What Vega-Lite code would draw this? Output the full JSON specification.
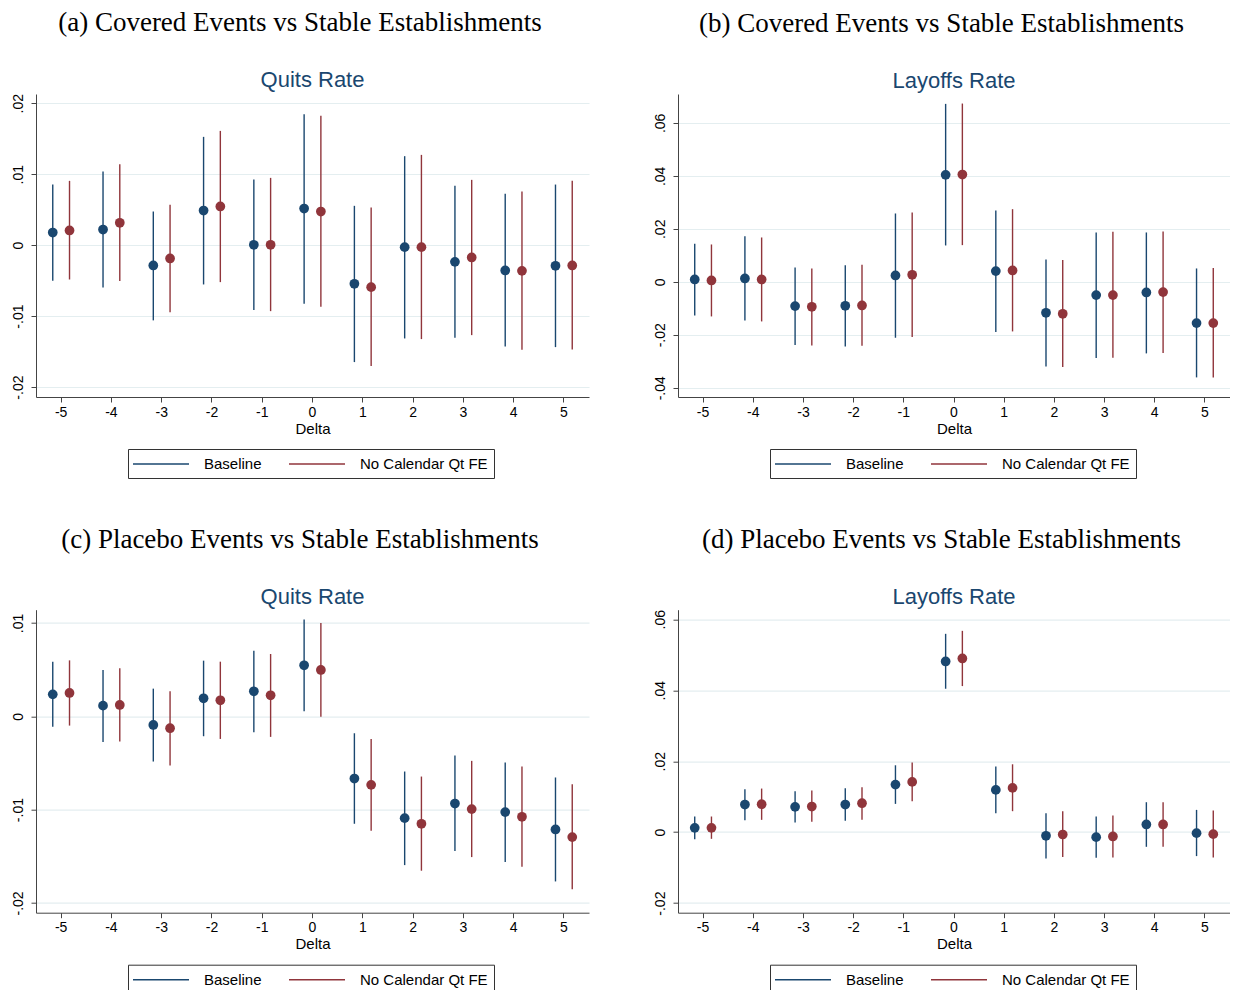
{
  "$schema": "https://vega.github.io/schema/vega-lite/v6.json",
  "padding": {"left": 10, "top": 9, "right": 0, "bottom": 0},
  "background": "white",
  "config": {
    "view": {"stroke": null},
    "font": "Liberation Sans",
    "axis": {"domainColor": "#444", "tickColor": "#444", "labelColor": "#000", "titleColor": "#000", "labelFont": "Liberation Sans", "labelFontSize": 14, "titleFont": "Liberation Sans", "titleFontSize": 15, "titleFontWeight": "normal", "domainWidth": 1, "tickWidth": 1, "tickSize": 5, "gridColor": "#e4eef0", "gridWidth": 1.2},
    "axisX": {"grid": false, "labelAngle": 0, "labelPadding": 3, "titlePadding": 2, "labelExpr": "datum.value < 0 ? '-' + abs(datum.value) : '' + datum.value"},
    "axisY": {"grid": true, "labelAngle": 270, "labelAlign": "center", "labelBaseline": "bottom", "labelPadding": 6, "labelExpr": "abs(datum.value) < 1e-9 ? '0' : (datum.value < 0 ? '-' : '') + replace(format(abs(datum.value), '.2f'), '0.', '.')"},
    "legend": {"labelFont": "Liberation Sans", "labelFontSize": 15, "labelColor": "#000", "symbolStrokeWidth": 1.5, "labelOffset": 52, "columnPadding": 24, "padding": 6, "strokeColor": "#333"}
  },
  "datasets": {
    "a": [
      {"delta": -5, "series": "Baseline", "est": 0.00178, "hi": 0.00854, "lo": -0.00502},
      {"delta": -4, "series": "Baseline", "est": 0.0022, "hi": 0.01038, "lo": -0.00596},
      {"delta": -3, "series": "Baseline", "est": -0.00286, "hi": 0.00474, "lo": -0.0106},
      {"delta": -2, "series": "Baseline", "est": 0.00488, "hi": 0.01526, "lo": -0.00554},
      {"delta": -1, "series": "Baseline", "est": 0.00005, "hi": 0.00925, "lo": -0.00915},
      {"delta": 0, "series": "Baseline", "est": 0.00516, "hi": 0.01845, "lo": -0.00826},
      {"delta": 1, "series": "Baseline", "est": -0.00545, "hi": 0.00554, "lo": -0.01648},
      {"delta": 2, "series": "Baseline", "est": -0.00028, "hi": 0.01254, "lo": -0.01315},
      {"delta": 3, "series": "Baseline", "est": -0.00235, "hi": 0.00836, "lo": -0.01305},
      {"delta": 4, "series": "Baseline", "est": -0.00357, "hi": 0.00723, "lo": -0.01427},
      {"delta": 5, "series": "Baseline", "est": -0.00291, "hi": 0.00854, "lo": -0.01437},
      {"delta": -5, "series": "No Calendar Qt FE", "est": 0.00207, "hi": 0.00906, "lo": -0.00484},
      {"delta": -4, "series": "No Calendar Qt FE", "est": 0.00315, "hi": 0.01141, "lo": -0.00507},
      {"delta": -3, "series": "No Calendar Qt FE", "est": -0.00188, "hi": 0.00568, "lo": -0.00944},
      {"delta": -2, "series": "No Calendar Qt FE", "est": 0.00545, "hi": 0.0161, "lo": -0.00521},
      {"delta": -1, "series": "No Calendar Qt FE", "est": 0.00005, "hi": 0.00948, "lo": -0.0093},
      {"delta": 0, "series": "No Calendar Qt FE", "est": 0.00474, "hi": 0.01822, "lo": -0.00869},
      {"delta": 1, "series": "No Calendar Qt FE", "est": -0.00592, "hi": 0.00531, "lo": -0.01704},
      {"delta": 2, "series": "No Calendar Qt FE", "est": -0.00028, "hi": 0.01272, "lo": -0.01324},
      {"delta": 3, "series": "No Calendar Qt FE", "est": -0.00174, "hi": 0.0092, "lo": -0.01268},
      {"delta": 4, "series": "No Calendar Qt FE", "est": -0.00362, "hi": 0.00756, "lo": -0.01474},
      {"delta": 5, "series": "No Calendar Qt FE", "est": -0.00286, "hi": 0.00906, "lo": -0.01469}
    ],
    "b": [
      {"delta": -5, "series": "Baseline", "est": 0.00088, "hi": 0.01434, "lo": -0.0127},
      {"delta": -4, "series": "Baseline", "est": 0.00126, "hi": 0.01723, "lo": -0.01459},
      {"delta": -3, "series": "Baseline", "est": -0.00918, "hi": 0.00541, "lo": -0.0239},
      {"delta": -2, "series": "Baseline", "est": -0.00906, "hi": 0.00629, "lo": -0.0244},
      {"delta": -1, "series": "Baseline", "est": 0.00239, "hi": 0.02579, "lo": -0.02113},
      {"delta": 0, "series": "Baseline", "est": 0.04038, "hi": 0.06717, "lo": 0.01371},
      {"delta": 1, "series": "Baseline", "est": 0.00403, "hi": 0.02692, "lo": -0.01899},
      {"delta": 2, "series": "Baseline", "est": -0.0117, "hi": 0.00843, "lo": -0.03195},
      {"delta": 3, "series": "Baseline", "est": -0.00503, "hi": 0.01862, "lo": -0.0288},
      {"delta": 4, "series": "Baseline", "est": -0.00403, "hi": 0.01862, "lo": -0.02704},
      {"delta": 5, "series": "Baseline", "est": -0.0156, "hi": 0.00503, "lo": -0.0361},
      {"delta": -5, "series": "No Calendar Qt FE", "est": 0.0005, "hi": 0.01409, "lo": -0.01308},
      {"delta": -4, "series": "No Calendar Qt FE", "est": 0.00088, "hi": 0.01673, "lo": -0.01497},
      {"delta": -3, "series": "No Calendar Qt FE", "est": -0.00943, "hi": 0.00503, "lo": -0.02403},
      {"delta": -2, "series": "No Calendar Qt FE", "est": -0.00893, "hi": 0.00642, "lo": -0.02415},
      {"delta": -1, "series": "No Calendar Qt FE", "est": 0.00264, "hi": 0.02616, "lo": -0.02088},
      {"delta": 0, "series": "No Calendar Qt FE", "est": 0.0405, "hi": 0.0673, "lo": 0.01384},
      {"delta": 1, "series": "No Calendar Qt FE", "est": 0.00428, "hi": 0.02742, "lo": -0.01874},
      {"delta": 2, "series": "No Calendar Qt FE", "est": -0.01208, "hi": 0.00818, "lo": -0.0322},
      {"delta": 3, "series": "No Calendar Qt FE", "est": -0.00503, "hi": 0.01887, "lo": -0.02868},
      {"delta": 4, "series": "No Calendar Qt FE", "est": -0.0039, "hi": 0.019, "lo": -0.02692},
      {"delta": 5, "series": "No Calendar Qt FE", "est": -0.0156, "hi": 0.00516, "lo": -0.0361}
    ],
    "c": [
      {"delta": -5, "series": "Baseline", "est": 0.00235, "hi": 0.00585, "lo": -0.00111},
      {"delta": -4, "series": "Baseline", "est": 0.00114, "hi": 0.00496, "lo": -0.00275},
      {"delta": -3, "series": "Baseline", "est": -0.00093, "hi": 0.00296, "lo": -0.00485},
      {"delta": -2, "series": "Baseline", "est": 0.00193, "hi": 0.00596, "lo": -0.00214},
      {"delta": -1, "series": "Baseline", "est": 0.00268, "hi": 0.00703, "lo": -0.00171},
      {"delta": 0, "series": "Baseline", "est": 0.00546, "hi": 0.01038, "lo": 0.00054},
      {"delta": 1, "series": "Baseline", "est": -0.00667, "hi": -0.00182, "lo": -0.01152},
      {"delta": 2, "series": "Baseline", "est": -0.01092, "hi": -0.00592, "lo": -0.01595},
      {"delta": 3, "series": "Baseline", "est": -0.00935, "hi": -0.00421, "lo": -0.01445},
      {"delta": 4, "series": "Baseline", "est": -0.01027, "hi": -0.00496, "lo": -0.01563},
      {"delta": 5, "series": "Baseline", "est": -0.01213, "hi": -0.00656, "lo": -0.0177},
      {"delta": -5, "series": "No Calendar Qt FE", "est": 0.0025, "hi": 0.00599, "lo": -0.001},
      {"delta": -4, "series": "No Calendar Qt FE", "est": 0.00121, "hi": 0.00514, "lo": -0.00271},
      {"delta": -3, "series": "No Calendar Qt FE", "est": -0.00128, "hi": 0.00268, "lo": -0.00528},
      {"delta": -2, "series": "No Calendar Qt FE", "est": 0.00171, "hi": 0.00585, "lo": -0.00243},
      {"delta": -1, "series": "No Calendar Qt FE", "est": 0.00225, "hi": 0.00667, "lo": -0.00221},
      {"delta": 0, "series": "No Calendar Qt FE", "est": 0.00496, "hi": 0.00999, "lo": -0.00004},
      {"delta": 1, "series": "No Calendar Qt FE", "est": -0.00735, "hi": -0.00243, "lo": -0.01227},
      {"delta": 2, "series": "No Calendar Qt FE", "est": -0.01152, "hi": -0.00646, "lo": -0.01655},
      {"delta": 3, "series": "No Calendar Qt FE", "est": -0.00995, "hi": -0.00478, "lo": -0.01509},
      {"delta": 4, "series": "No Calendar Qt FE", "est": -0.01077, "hi": -0.00539, "lo": -0.01613},
      {"delta": 5, "series": "No Calendar Qt FE", "est": -0.01295, "hi": -0.00728, "lo": -0.01855}
    ],
    "d": [
      {"delta": -5, "series": "Baseline", "est": 0.00122, "hi": 0.00441, "lo": -0.00197},
      {"delta": -4, "series": "Baseline", "est": 0.00778, "hi": 0.0121, "lo": 0.00338},
      {"delta": -3, "series": "Baseline", "est": 0.00713, "hi": 0.01154, "lo": 0.00272},
      {"delta": -2, "series": "Baseline", "est": 0.00778, "hi": 0.01238, "lo": 0.00319},
      {"delta": -1, "series": "Baseline", "est": 0.01341, "hi": 0.01885, "lo": 0.00797},
      {"delta": 0, "series": "Baseline", "est": 0.04812, "hi": 0.0559, "lo": 0.04042},
      {"delta": 1, "series": "Baseline", "est": 0.01191, "hi": 0.01848, "lo": 0.00535},
      {"delta": 2, "series": "Baseline", "est": -0.00103, "hi": 0.00535, "lo": -0.00741},
      {"delta": 3, "series": "Baseline", "est": -0.00141, "hi": 0.00441, "lo": -0.00722},
      {"delta": 4, "series": "Baseline", "est": 0.00216, "hi": 0.00844, "lo": -0.00413},
      {"delta": 5, "series": "Baseline", "est": -0.00028, "hi": 0.00628, "lo": -0.00675},
      {"delta": -5, "series": "No Calendar Qt FE", "est": 0.00122, "hi": 0.00441, "lo": -0.00188},
      {"delta": -4, "series": "No Calendar Qt FE", "est": 0.00788, "hi": 0.01229, "lo": 0.00347},
      {"delta": -3, "series": "No Calendar Qt FE", "est": 0.00722, "hi": 0.01172, "lo": 0.00291},
      {"delta": -2, "series": "No Calendar Qt FE", "est": 0.00816, "hi": 0.01266, "lo": 0.00347},
      {"delta": -1, "series": "No Calendar Qt FE", "est": 0.01416, "hi": 0.0196, "lo": 0.00872},
      {"delta": 0, "series": "No Calendar Qt FE", "est": 0.04896, "hi": 0.05674, "lo": 0.04117},
      {"delta": 1, "series": "No Calendar Qt FE", "est": 0.01247, "hi": 0.01913, "lo": 0.00591},
      {"delta": 2, "series": "No Calendar Qt FE", "est": -0.00066, "hi": 0.00591, "lo": -0.00703},
      {"delta": 3, "series": "No Calendar Qt FE", "est": -0.00122, "hi": 0.00469, "lo": -0.00713},
      {"delta": 4, "series": "No Calendar Qt FE", "est": 0.00216, "hi": 0.00844, "lo": -0.00413},
      {"delta": 5, "series": "No Calendar Qt FE", "est": -0.00056, "hi": 0.0061, "lo": -0.00713}
    ]
  },
  "resolve": {"scale": {"color": "independent", "xOffset": "independent"}, "legend": {"color": "independent"}},
  "spacing": 45.7,
  "vconcat": [
    {
      "spacing": 64,
      "resolve": {"scale": {"color": "independent", "xOffset": "independent"}, "legend": {"color": "independent"}},
      "hconcat": [
        {
          "title": {"text": "(a) Covered Events vs Stable Establishments", "font": "Liberation Serif", "fontSize": 27, "fontWeight": "normal", "color": "#000", "anchor": "middle", "offset": 32},
          "resolve": {"scale": {"color": "independent", "xOffset": "independent"}, "legend": {"color": "independent"}},
          "vconcat": [
            {
              "data": {"name": "a"},
              "width": 553, "height": 303,
              "title": {"text": "Quits Rate", "font": "Liberation Sans", "fontSize": 22, "fontWeight": "normal", "color": "#1a476f", "offset": 1},
              "encoding": {
                "x": {"field": "delta", "type": "ordinal", "title": "Delta", "scale": {"domain": [-5, -4, -3, -2, -1, 0, 1, 2, 3, 4, 5], "paddingInner": 0, "paddingOuter": 0}},
                "xOffset": {"field": "series", "type": "nominal", "scale": {"domain": ["Baseline", "No Calendar Qt FE"], "paddingInner": 0, "paddingOuter": 0.5}},
                "color": {"field": "series", "type": "nominal", "scale": {"domain": ["Baseline", "No Calendar Qt FE"], "range": ["#1a476f", "#90353b"]}, "legend": {"title": null, "orient": "none", "legendX": 92, "legendY": 355, "direction": "horizontal", "symbolType": "M-1.25,0H5.75", "symbolSize": 256}}
              },
              "layer": [
                {"mark": {"type": "rule", "strokeWidth": 1.4}, "encoding": {
                  "y": {"field": "lo", "type": "quantitative", "title": null, "scale": {"domain": [-0.0214, 0.0213], "nice": false, "zero": false}, "axis": {"values": [-0.02, -0.01, 0, 0.01, 0.02]}},
                  "y2": {"field": "hi"}}},
                {"mark": {"type": "point", "filled": true, "size": 95, "opacity": 1}, "encoding": {
                  "y": {"field": "est", "type": "quantitative", "title": null}}}
              ]
            }
          ]
        },
        {
          "title": {"text": "(b) Covered Events vs Stable Establishments", "font": "Liberation Serif", "fontSize": 27, "fontWeight": "normal", "color": "#000", "anchor": "middle", "offset": 32},
          "resolve": {"scale": {"color": "independent", "xOffset": "independent"}, "legend": {"color": "independent"}},
          "vconcat": [
            {
              "data": {"name": "b"},
              "width": 552, "height": 303,
              "title": {"text": "Layoffs Rate", "font": "Liberation Sans", "fontSize": 22, "fontWeight": "normal", "color": "#1a476f", "offset": 1},
              "encoding": {
                "x": {"field": "delta", "type": "ordinal", "title": "Delta", "scale": {"domain": [-5, -4, -3, -2, -1, 0, 1, 2, 3, 4, 5], "paddingInner": 0, "paddingOuter": 0}},
                "xOffset": {"field": "series", "type": "nominal", "scale": {"domain": ["Baseline", "No Calendar Qt FE"], "paddingInner": 0, "paddingOuter": 0.5}},
                "color": {"field": "series", "type": "nominal", "scale": {"domain": ["Baseline", "No Calendar Qt FE"], "range": ["#1a476f", "#90353b"]}, "legend": {"title": null, "orient": "none", "legendX": 92, "legendY": 355, "direction": "horizontal", "symbolType": "M-1.25,0H5.75", "symbolSize": 256}}
              },
              "layer": [
                {"mark": {"type": "rule", "strokeWidth": 1.4}, "encoding": {
                  "y": {"field": "lo", "type": "quantitative", "title": null, "scale": {"domain": [-0.0435, 0.0709], "nice": false, "zero": false}, "axis": {"values": [-0.04, -0.02, 0, 0.02, 0.04, 0.06]}},
                  "y2": {"field": "hi"}}},
                {"mark": {"type": "point", "filled": true, "size": 95, "opacity": 1}, "encoding": {
                  "y": {"field": "est", "type": "quantitative", "title": null}}}
              ]
            }
          ]
        }
      ]
    },
    {
      "spacing": 64,
      "resolve": {"scale": {"color": "independent", "xOffset": "independent"}, "legend": {"color": "independent"}},
      "hconcat": [
        {
          "title": {"text": "(c) Placebo Events vs Stable Establishments", "font": "Liberation Serif", "fontSize": 27, "fontWeight": "normal", "color": "#000", "anchor": "middle", "offset": 32},
          "resolve": {"scale": {"color": "independent", "xOffset": "independent"}, "legend": {"color": "independent"}},
          "vconcat": [
            {
              "data": {"name": "c"},
              "width": 553, "height": 303,
              "title": {"text": "Quits Rate", "font": "Liberation Sans", "fontSize": 22, "fontWeight": "normal", "color": "#1a476f", "offset": 1},
              "encoding": {
                "x": {"field": "delta", "type": "ordinal", "title": "Delta", "scale": {"domain": [-5, -4, -3, -2, -1, 0, 1, 2, 3, 4, 5], "paddingInner": 0, "paddingOuter": 0}},
                "xOffset": {"field": "series", "type": "nominal", "scale": {"domain": ["Baseline", "No Calendar Qt FE"], "paddingInner": 0, "paddingOuter": 0.5}},
                "color": {"field": "series", "type": "nominal", "scale": {"domain": ["Baseline", "No Calendar Qt FE"], "range": ["#1a476f", "#90353b"]}, "legend": {"title": null, "orient": "none", "legendX": 92, "legendY": 355, "direction": "horizontal", "symbolType": "M-1.25,0H5.75", "symbolSize": 256}}
              },
              "layer": [
                {"mark": {"type": "rule", "strokeWidth": 1.4}, "encoding": {
                  "y": {"field": "lo", "type": "quantitative", "title": null, "scale": {"domain": [-0.02105, 0.01142], "nice": false, "zero": false}, "axis": {"values": [-0.02, -0.01, 0, 0.01]}},
                  "y2": {"field": "hi"}}},
                {"mark": {"type": "point", "filled": true, "size": 95, "opacity": 1}, "encoding": {
                  "y": {"field": "est", "type": "quantitative", "title": null}}}
              ]
            }
          ]
        },
        {
          "title": {"text": "(d) Placebo Events vs Stable Establishments", "font": "Liberation Serif", "fontSize": 27, "fontWeight": "normal", "color": "#000", "anchor": "middle", "offset": 32},
          "resolve": {"scale": {"color": "independent", "xOffset": "independent"}, "legend": {"color": "independent"}},
          "vconcat": [
            {
              "data": {"name": "d"},
              "width": 552, "height": 303,
              "title": {"text": "Layoffs Rate", "font": "Liberation Sans", "fontSize": 22, "fontWeight": "normal", "color": "#1a476f", "offset": 1},
              "encoding": {
                "x": {"field": "delta", "type": "ordinal", "title": "Delta", "scale": {"domain": [-5, -4, -3, -2, -1, 0, 1, 2, 3, 4, 5], "paddingInner": 0, "paddingOuter": 0}},
                "xOffset": {"field": "series", "type": "nominal", "scale": {"domain": ["Baseline", "No Calendar Qt FE"], "paddingInner": 0, "paddingOuter": 0.5}},
                "color": {"field": "series", "type": "nominal", "scale": {"domain": ["Baseline", "No Calendar Qt FE"], "range": ["#1a476f", "#90353b"]}, "legend": {"title": null, "orient": "none", "legendX": 92, "legendY": 355, "direction": "horizontal", "symbolType": "M-1.25,0H5.75", "symbolSize": 256}}
              },
              "layer": [
                {"mark": {"type": "rule", "strokeWidth": 1.4}, "encoding": {
                  "y": {"field": "lo", "type": "quantitative", "title": null, "scale": {"domain": [-0.0227, 0.0627], "nice": false, "zero": false}, "axis": {"values": [-0.02, 0, 0.02, 0.04, 0.06]}},
                  "y2": {"field": "hi"}}},
                {"mark": {"type": "point", "filled": true, "size": 95, "opacity": 1}, "encoding": {
                  "y": {"field": "est", "type": "quantitative", "title": null}}}
              ]
            }
          ]
        }
      ]
    }
  ]
}
